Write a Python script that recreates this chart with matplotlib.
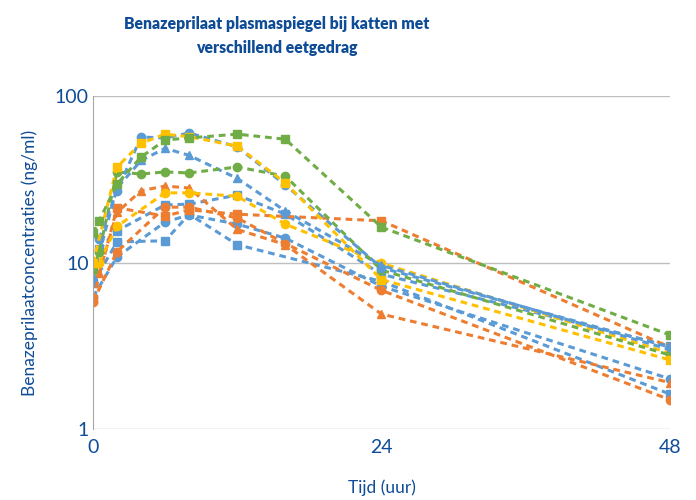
import numpy as np
import matplotlib.pyplot as plt

# sampling times (h); None = no sample for that cat
times = [0, 0.5, 2, 4, 6, 8, 12, 16, 24, 48]

green_sq = [15.0, 17.7, 29.6, 43.0, 54.4, 56.0, 59.0, 55.0, 16.3, 3.67]
green_ci = [9.0, 11.5, 35.0, 34.0, 35.0, 34.5, 37.5, 33.0, 9.0, 2.78]
yellow_sq = [9.9, None, 37.5, 52.0, 59.0, 57.0, 50.0, 30.0, 7.9, 2.6]
yellow_ci = [None, 10.0, 16.5, None, 26.2, 26.2, 25.0, 17.0, 9.9, 2.85]
blue_ci_hi = [None, 13.8, 27.0, 56.7, 56.0, 60.0, 49.5, 29.2, 9.3, 3.1]
blue_tri = [8.3, None, 28.0, 41.0, 48.5, 44.0, 32.0, 20.4, 9.6, 3.0]
blue_sq_mid = [None, 12.0, 15.5, None, 22.2, 22.4, 25.4, 19.5, 8.5, 3.15]
blue_ci_lo = [6.2, None, 10.8, None, 17.5, 19.3, 17.0, 14.0, 7.2, 2.0]
blue_sq_lo = [7.5, None, 13.3, None, 13.5, 19.5, 12.8, None, 7.7, 1.62]
orange_ci = [5.8, None, 11.6, None, 21.5, 21.5, 18.5, 13.0, 6.8, 1.5]
orange_tri = [None, 8.6, 20.0, 27.0, 28.8, 28.0, 15.8, 12.8, 4.9, 1.9]
orange_sq = [6.0, None, 21.3, None, 19.0, 20.7, 19.5, None, 17.8, 3.1]

BLUE, ORANGE, YELLOW, GREEN = "#5B9BD5", "#ED7D31", "#FFC000", "#70AD47"
TXT = "#0F4C96"

series = [
    (blue_sq_lo, BLUE, "s"), (blue_ci_lo, BLUE, "o"), (blue_sq_mid, BLUE, "s"),
    (orange_ci, ORANGE, "o"), (orange_sq, ORANGE, "s"), (orange_tri, ORANGE, "^"),
    (yellow_ci, YELLOW, "o"), (blue_tri, BLUE, "^"), (green_ci, GREEN, "o"),
    (blue_ci_hi, BLUE, "o"), (yellow_sq, YELLOW, "s"), (green_sq, GREEN, "s"),
]

plt.rcParams['font.family'] = ['Lato', 'DejaVu Sans']
fig = plt.figure(figsize=(6.96, 5), dpi=100)
ax = fig.add_axes([0.1336, 0.142, 0.829, 0.666])

for vals, col, mk in series:
    t = [ti for ti, v in zip(times, vals) if v is not None]
    v = [v for v in vals if v is not None]
    ax.plot(t, v, color=col, marker=mk, markersize=6, lw=2.2,
            linestyle=(0, (2.2, 1.6)), dash_capstyle="butt")

ax.set_yscale("log")
ax.set_ylim(1, 100)
ax.set_xlim(0, 48)
ax.set_xticks([0, 24, 48])
ax.set_yticks([1, 10, 100])
ax.set_yticklabels(["1", "10", "100"])
ax.yaxis.set_minor_locator(plt.NullLocator())
ax.tick_params(length=0, labelsize=14, labelcolor=TXT)
ax.tick_params(axis="x", pad=7)
ax.tick_params(axis="y", pad=3)
ax.grid(axis="y", color="#BFBFBF", lw=1)
ax.set_axisbelow(True)
for s in ["top", "right", "bottom"]:
    ax.spines[s].set_visible(False)
ax.spines["left"].set_color("#A6A6A6")

ax.set_ylabel("Benazeprilaatconcentraties (ng/ml)", fontsize=12.5, color=TXT, labelpad=12)
ax.set_xlabel("Tijd (uur)", fontsize=12.5, color=TXT, labelpad=17)
fig.text(0.398, 0.928, "Benazeprilaat plasmaspiegel bij katten met\nverschillend eetgedrag",
         ha="center", va="center", fontsize=11.3, fontweight="heavy", color=TXT, linespacing=1.6)

fig.savefig("out.png", dpi=100)
